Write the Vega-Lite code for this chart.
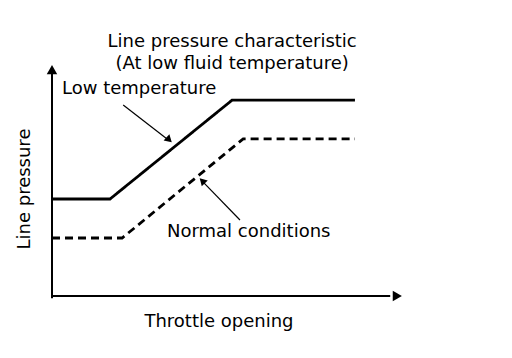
{
  "$schema": "https://vega.github.io/schema/vega-lite/v6.json",
  "width": 356,
  "height": 231,
  "autosize": {"type": "none"},
  "padding": {"left": 52, "top": 65, "right": 104, "bottom": 62},
  "background": "white",
  "config": {"view": {"stroke": null}},
  "datasets": {
    "curves": [
      {"series": "Low temperature", "order": 1, "throttle": 0, "pressure": 42.0},
      {"series": "Low temperature", "order": 2, "throttle": 16.3, "pressure": 42.0},
      {"series": "Low temperature", "order": 3, "throttle": 50.6, "pressure": 84.8},
      {"series": "Low temperature", "order": 4, "throttle": 85.1, "pressure": 84.8},
      {"series": "Normal conditions", "order": 1, "throttle": 0, "pressure": 25.1},
      {"series": "Normal conditions", "order": 2, "throttle": 19.7, "pressure": 25.1},
      {"series": "Normal conditions", "order": 3, "throttle": 53.7, "pressure": 68.0},
      {"series": "Normal conditions", "order": 4, "throttle": 85.1, "pressure": 68.0}
    ],
    "axes": [
      {"kind": "axis", "x": 0, "y": -1, "x2": 0, "y2": 97},
      {"kind": "axis", "x": 0, "y": 0, "x2": 95, "y2": 0}
    ],
    "pointers": [
      {"kind": "pointer", "x": 20.0, "y": 82.7, "x2": 32.6, "y2": 67.6},
      {"kind": "pointer", "x": 52.8, "y": 32.9, "x2": 42.4, "y2": 49.4}
    ],
    "heads": [
      {"x": 0, "y": 98.0, "angle": 270, "size": 110},
      {"x": 97.0, "y": 0, "angle": 0, "size": 110},
      {"x": 32.9, "y": 67.6, "angle": 43.5, "size": 70},
      {"x": 42.2, "y": 49.9, "angle": 225.6, "size": 70}
    ],
    "centerLabels": [
      {"text": "Line pressure characteristic", "x": 50.6, "y": 110.0},
      {"text": "(At low fluid temperature)", "x": 50.6, "y": 100.4},
      {"text": "Throttle opening", "x": 46.9, "y": -11.3}
    ],
    "leftLabels": [
      {"text": "Low temperature", "x": 2.8, "y": 89.6},
      {"text": "Normal conditions", "x": 32.3, "y": 27.7}
    ],
    "sideLabels": [
      {"text": "Line pressure", "x": -7.6, "y": 46.3}
    ]
  },
  "layer": [
    {
      "data": {"name": "curves"},
      "mark": {"type": "line", "strokeWidth": 2.8, "color": "black", "strokeJoin": "miter", "strokeCap": "butt"},
      "encoding": {
        "x": {"field": "throttle", "type": "quantitative", "scale": {"domain": [0, 100], "nice": false, "zero": false}, "axis": null},
        "y": {"field": "pressure", "type": "quantitative", "scale": {"domain": [0, 100], "nice": false, "zero": false}, "axis": null},
        "order": {"field": "order"},
        "detail": {"field": "series"},
        "strokeDash": {"field": "series", "type": "nominal", "scale": {"domain": ["Low temperature", "Normal conditions"], "range": [[1, 0], [8, 5]]}, "legend": null}
      }
    },
    {
      "data": {"name": "axes"},
      "mark": {"type": "rule", "strokeWidth": 2, "color": "black"},
      "encoding": {
        "x": {"field": "x", "type": "quantitative"},
        "y": {"field": "y", "type": "quantitative"},
        "x2": {"field": "x2"},
        "y2": {"field": "y2"}
      }
    },
    {
      "data": {"name": "pointers"},
      "mark": {"type": "rule", "strokeWidth": 1.2, "color": "black"},
      "encoding": {
        "x": {"field": "x", "type": "quantitative"},
        "y": {"field": "y", "type": "quantitative"},
        "x2": {"field": "x2"},
        "y2": {"field": "y2"}
      }
    },
    {
      "data": {"name": "heads"},
      "mark": {"type": "point", "shape": "triangle-right", "filled": true, "color": "black", "opacity": 1},
      "encoding": {
        "x": {"field": "x", "type": "quantitative"},
        "y": {"field": "y", "type": "quantitative"},
        "angle": {"field": "angle", "type": "quantitative", "scale": null},
        "size": {"field": "size", "type": "quantitative", "scale": null}
      }
    },
    {
      "data": {"name": "centerLabels"},
      "mark": {"type": "text", "font": "DejaVu Sans", "fontSize": 18, "color": "black", "baseline": "middle", "align": "center"},
      "encoding": {
        "x": {"field": "x", "type": "quantitative"},
        "y": {"field": "y", "type": "quantitative"},
        "text": {"field": "text"}
      }
    },
    {
      "data": {"name": "leftLabels"},
      "mark": {"type": "text", "font": "DejaVu Sans", "fontSize": 18, "color": "black", "baseline": "middle", "align": "left"},
      "encoding": {
        "x": {"field": "x", "type": "quantitative"},
        "y": {"field": "y", "type": "quantitative"},
        "text": {"field": "text"}
      }
    },
    {
      "data": {"name": "sideLabels"},
      "mark": {"type": "text", "font": "DejaVu Sans", "fontSize": 18, "color": "black", "baseline": "middle", "align": "center", "angle": 270},
      "encoding": {
        "x": {"field": "x", "type": "quantitative"},
        "y": {"field": "y", "type": "quantitative"},
        "text": {"field": "text"}
      }
    }
  ]
}
